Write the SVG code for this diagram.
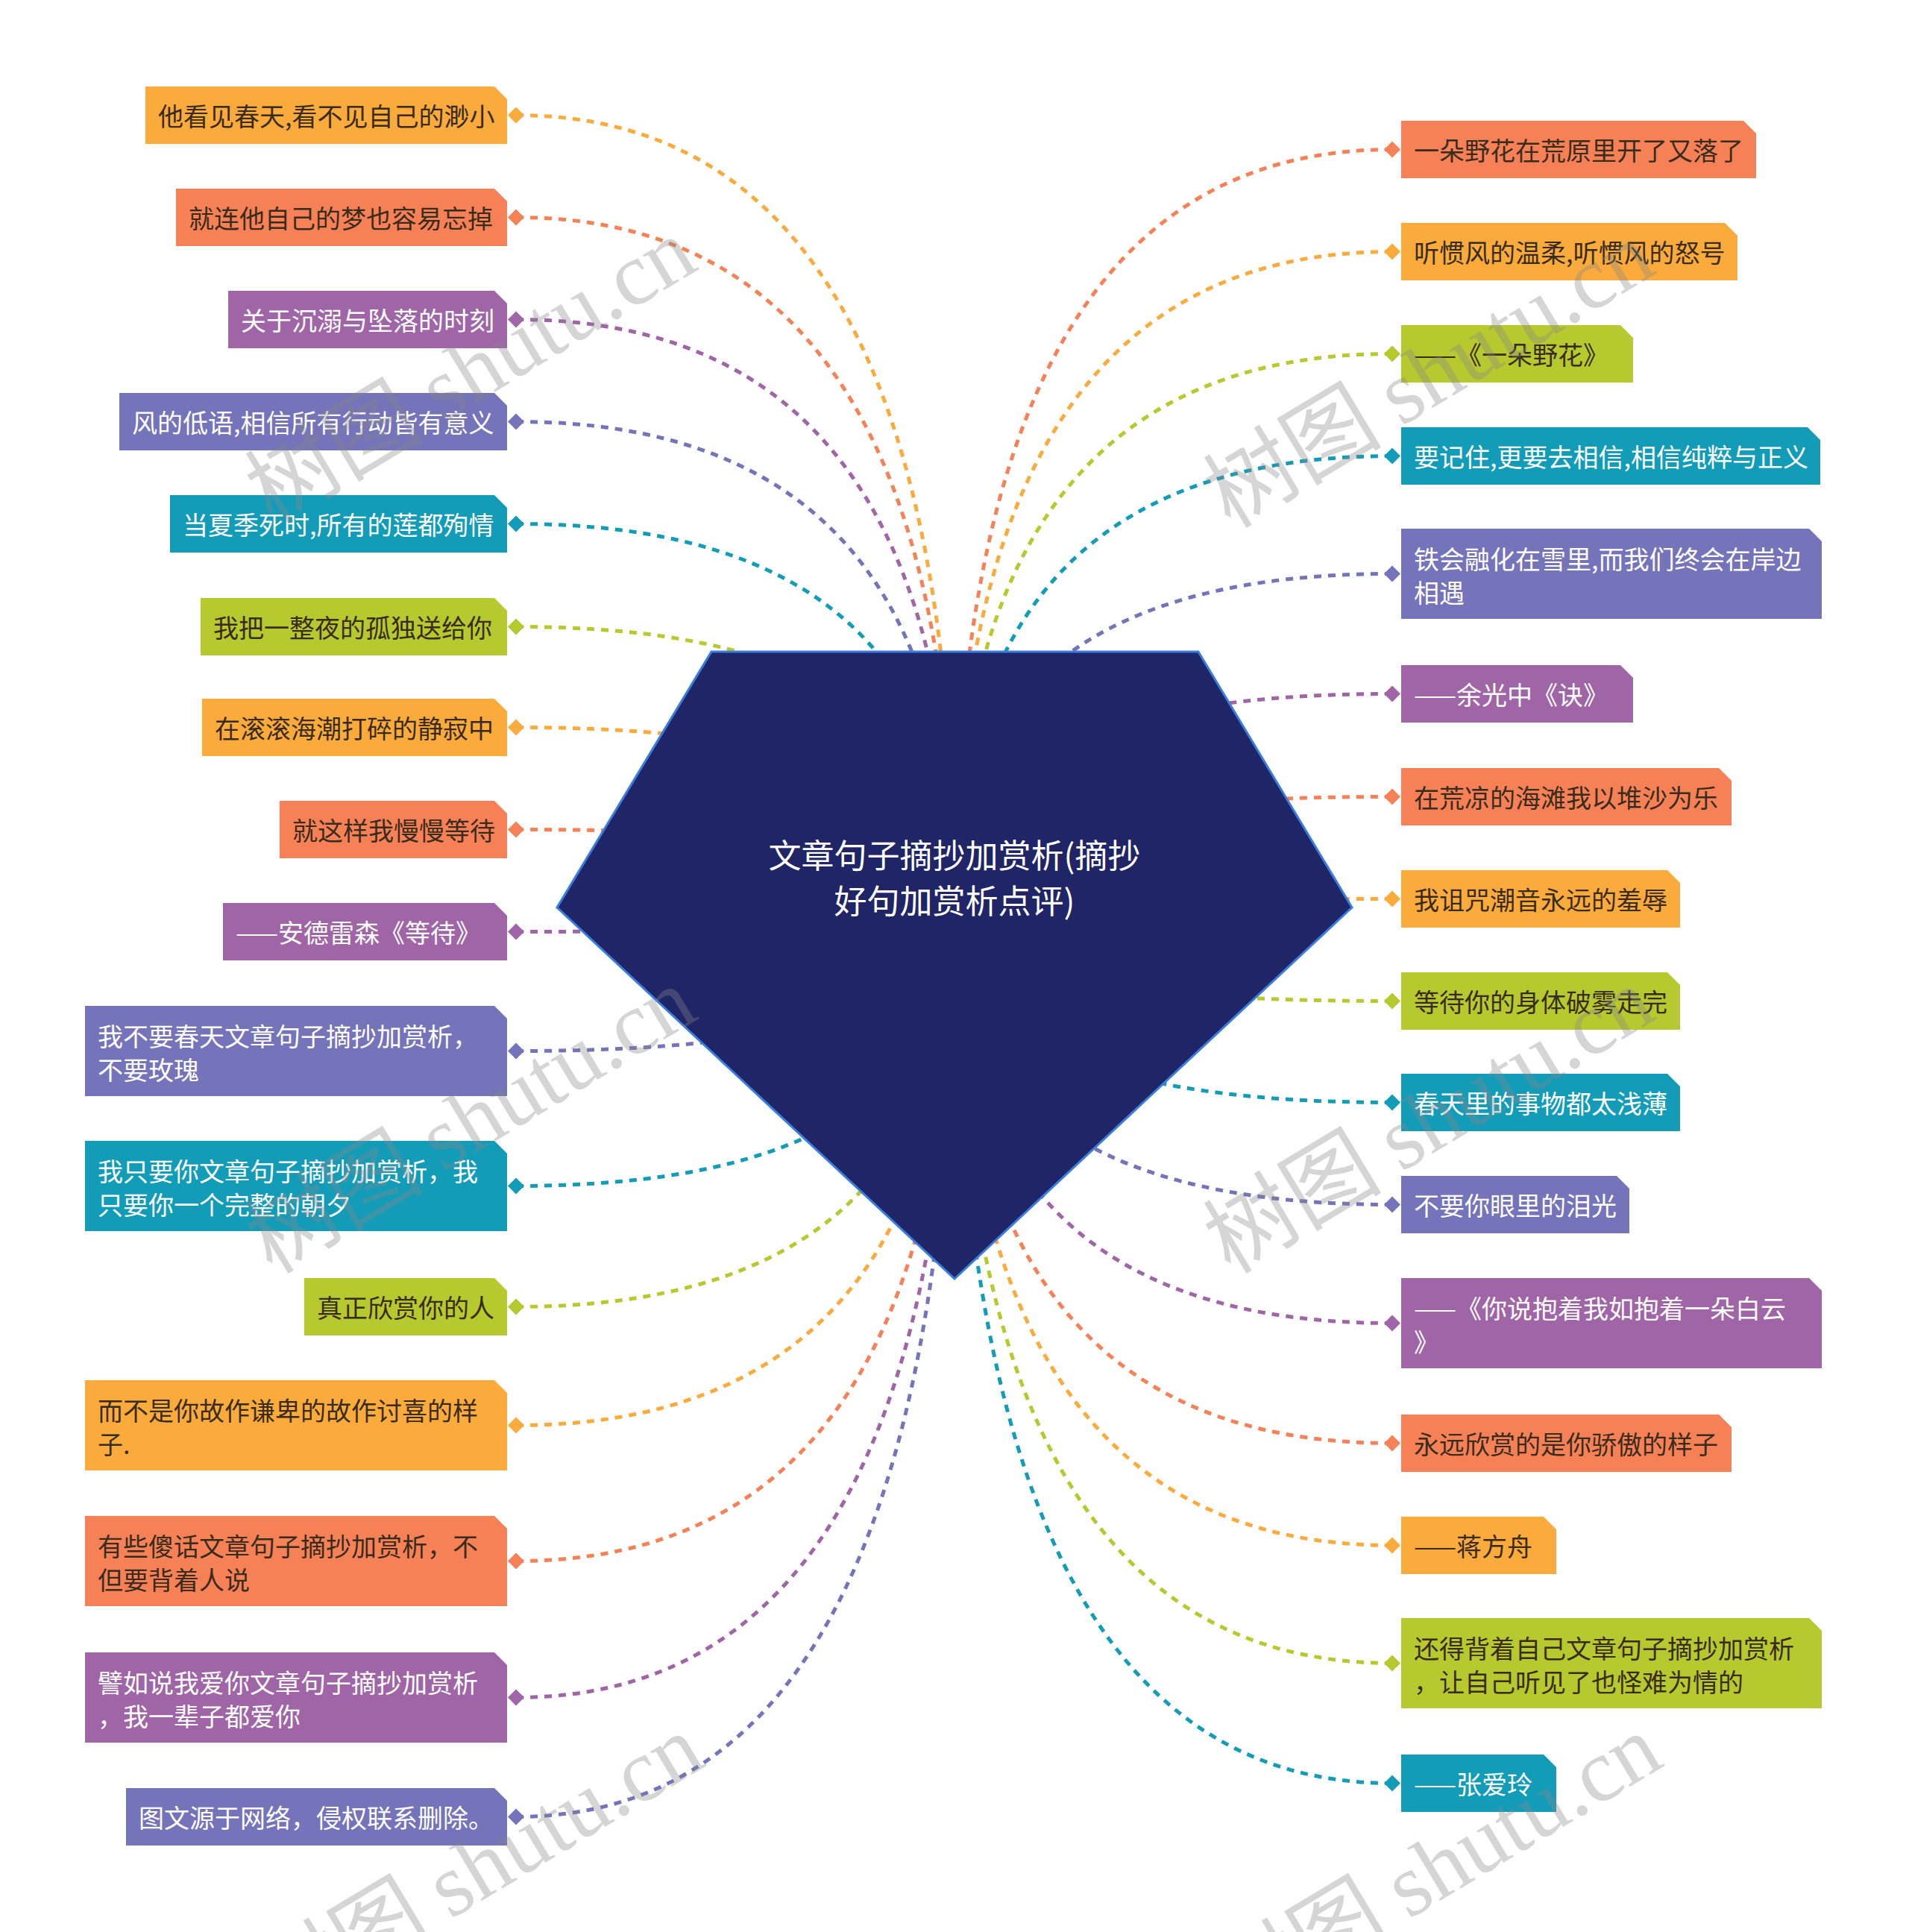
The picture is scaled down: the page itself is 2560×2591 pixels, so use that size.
<svg xmlns="http://www.w3.org/2000/svg" width="2560" height="2591" viewBox="0 0 2560 2591">
<style>
text{font-family:"Noto Sans CJK SC","Noto Sans",sans-serif;font-size:34px;dominant-baseline:central}
.dk{fill:#3a2c1c}.wt{fill:#ffffff}
.c path{fill:none;stroke-width:5;stroke-dasharray:10 9}
.or{fill:#fbab3b}.co{fill:#f78157}.pu{fill:#9f65a7}.vi{fill:#7573b9}.te{fill:#129cb8}.li{fill:#b6c92e}
.sor{stroke:#fbab3b}.sco{stroke:#f78157}.spu{stroke:#9f65a7}.svi{stroke:#7573b9}.ste{stroke:#129cb8}.sli{stroke:#b6c92e}
.wm{fill:#888888;opacity:0.35;font-size:120px;dominant-baseline:auto}
.wm tspan.e{font-family:"Liberation Serif",serif}
</style>
<rect width="2560" height="2591" fill="#ffffff"/>
<g id="connectors" class="c">
<path class="sor" d="M692 154.5 Q1280 154.5 1280 1217"/>
<path class="sco" d="M692 291.5 Q1280 291.5 1280 1217"/>
<path class="spu" d="M692 428.5 Q1280 428.5 1280 1217"/>
<path class="svi" d="M692 565.5 Q1280 565.5 1280 1217"/>
<path class="ste" d="M692 702.5 Q1280 702.5 1280 1217"/>
<path class="sli" d="M692 840.5 Q1280 840.5 1280 1217"/>
<path class="sor" d="M692 975.5 Q1280 975.5 1280 1217"/>
<path class="sco" d="M692 1112.5 Q1280 1112.5 1280 1217"/>
<path class="spu" d="M692 1249.5 Q1280 1249.5 1280 1217"/>
<path class="svi" d="M692 1409.5 Q1280 1409.5 1280 1217"/>
<path class="ste" d="M692 1590.5 Q1280 1590.5 1280 1217"/>
<path class="sli" d="M692 1752.5 Q1280 1752.5 1280 1217"/>
<path class="sor" d="M692 1911.5 Q1280 1911.5 1280 1217"/>
<path class="sco" d="M692 2093.5 Q1280 2093.5 1280 1217"/>
<path class="spu" d="M692 2276.5 Q1280 2276.5 1280 1217"/>
<path class="svi" d="M692 2436.5 Q1280 2436.5 1280 1217"/>
<path class="sco" d="M1867 200.5 Q1280 200.5 1280 1217"/>
<path class="sor" d="M1867 337.5 Q1280 337.5 1280 1217"/>
<path class="sli" d="M1867 474.5 Q1280 474.5 1280 1217"/>
<path class="ste" d="M1867 611.5 Q1280 611.5 1280 1217"/>
<path class="svi" d="M1867 769.5 Q1280 769.5 1280 1217"/>
<path class="spu" d="M1867 930.5 Q1280 930.5 1280 1217"/>
<path class="sco" d="M1867 1068.5 Q1280 1068.5 1280 1217"/>
<path class="sor" d="M1867 1205.5 Q1280 1205.5 1280 1217"/>
<path class="sli" d="M1867 1342.5 Q1280 1342.5 1280 1217"/>
<path class="ste" d="M1867 1478.5 Q1280 1478.5 1280 1217"/>
<path class="svi" d="M1867 1615.5 Q1280 1615.5 1280 1217"/>
<path class="spu" d="M1867 1774.5 Q1280 1774.5 1280 1217"/>
<path class="sco" d="M1867 1935.5 Q1280 1935.5 1280 1217"/>
<path class="sor" d="M1867 2072.5 Q1280 2072.5 1280 1217"/>
<path class="sli" d="M1867 2230.5 Q1280 2230.5 1280 1217"/>
<path class="ste" d="M1867 2391.5 Q1280 2391.5 1280 1217"/>
</g>
<g id="center">
<polygon points="954,874 1607,874 1813,1217 1280,1715 747,1217" fill="#1f2566" stroke="#3b7ddd" stroke-width="3"/>
<text class="wt" x="1280" y="1145" text-anchor="middle" style="font-size:44px">文章句子摘抄加赏析(摘抄</text>
<text class="wt" x="1280" y="1206" text-anchor="middle" style="font-size:44px">好句加赏析点评)</text>
</g>
<g id="L1"><path class="or" d="M195 116H663L680 133V193H195Z"/><polygon class="or" points="692,143.5 703,154.5 692,165.5 681,154.5"/><text class="dk" x="212" y="154.5">他看见春天,看不见自己的渺小</text></g>
<g id="L2"><path class="co" d="M236 253H663L680 270V330H236Z"/><polygon class="co" points="692,280.5 703,291.5 692,302.5 681,291.5"/><text class="dk" x="253" y="291.5">就连他自己的梦也容易忘掉</text></g>
<g id="L3"><path class="pu" d="M306 390H663L680 407V467H306Z"/><polygon class="pu" points="692,417.5 703,428.5 692,439.5 681,428.5"/><text class="wt" x="323" y="428.5">关于沉溺与坠落的时刻</text></g>
<g id="L4"><path class="vi" d="M160 527H663L680 544V604H160Z"/><polygon class="vi" points="692,554.5 703,565.5 692,576.5 681,565.5"/><text class="wt" x="177" y="565.5">风的低语,相信所有行动皆有意义</text></g>
<g id="L5"><path class="te" d="M228 664H663L680 681V741H228Z"/><polygon class="te" points="692,691.5 703,702.5 692,713.5 681,702.5"/><text class="wt" x="245" y="702.5">当夏季死时,所有的莲都殉情</text></g>
<g id="L6"><path class="li" d="M269 802H663L680 819V879H269Z"/><polygon class="li" points="692,829.5 703,840.5 692,851.5 681,840.5"/><text class="dk" x="286" y="840.5">我把一整夜的孤独送给你</text></g>
<g id="L7"><path class="or" d="M271 937H663L680 954V1014H271Z"/><polygon class="or" points="692,964.5 703,975.5 692,986.5 681,975.5"/><text class="dk" x="288" y="975.5">在滚滚海潮打碎的静寂中</text></g>
<g id="L8"><path class="co" d="M375 1074H663L680 1091V1151H375Z"/><polygon class="co" points="692,1101.5 703,1112.5 692,1123.5 681,1112.5"/><text class="dk" x="392" y="1112.5">就这样我慢慢等待</text></g>
<g id="L9"><path class="pu" d="M299 1211H663L680 1228V1288H299Z"/><polygon class="pu" points="692,1238.5 703,1249.5 692,1260.5 681,1249.5"/><text class="wt" x="316" y="1249.5">——安德雷森《等待》</text></g>
<g id="L10"><path class="vi" d="M114 1349H663L680 1366V1470H114Z"/><polygon class="vi" points="692,1398.5 703,1409.5 692,1420.5 681,1409.5"/><text class="wt" x="131" y="1388">我不要春天文章句子摘抄加赏析，</text><text class="wt" x="131" y="1433">不要玫瑰</text></g>
<g id="L11"><path class="te" d="M114 1530H663L680 1547V1651H114Z"/><polygon class="te" points="692,1579.5 703,1590.5 692,1601.5 681,1590.5"/><text class="wt" x="131" y="1569">我只要你文章句子摘抄加赏析，我</text><text class="wt" x="131" y="1614">只要你一个完整的朝夕</text></g>
<g id="L12"><path class="li" d="M408 1714H663L680 1731V1791H408Z"/><polygon class="li" points="692,1741.5 703,1752.5 692,1763.5 681,1752.5"/><text class="dk" x="425" y="1752.5">真正欣赏你的人</text></g>
<g id="L13"><path class="or" d="M114 1851H663L680 1868V1972H114Z"/><polygon class="or" points="692,1900.5 703,1911.5 692,1922.5 681,1911.5"/><text class="dk" x="131" y="1890">而不是你故作谦卑的故作讨喜的样</text><text class="dk" x="131" y="1935">子.</text></g>
<g id="L14"><path class="co" d="M114 2033H663L680 2050V2154H114Z"/><polygon class="co" points="692,2082.5 703,2093.5 692,2104.5 681,2093.5"/><text class="dk" x="131" y="2072">有些傻话文章句子摘抄加赏析，不</text><text class="dk" x="131" y="2117">但要背着人说</text></g>
<g id="L15"><path class="pu" d="M114 2216H663L680 2233V2337H114Z"/><polygon class="pu" points="692,2265.5 703,2276.5 692,2287.5 681,2276.5"/><text class="wt" x="131" y="2255">譬如说我爱你文章句子摘抄加赏析</text><text class="wt" x="131" y="2300">，我一辈子都爱你</text></g>
<g id="L16"><path class="vi" d="M169 2398H663L680 2415V2475H169Z"/><polygon class="vi" points="692,2425.5 703,2436.5 692,2447.5 681,2436.5"/><text class="wt" x="186" y="2436.5">图文源于网络，侵权联系删除。</text></g>
<g id="R1"><path class="co" d="M1879 162H2338L2355 179V239H1879Z"/><polygon class="co" points="1867,189.5 1878,200.5 1867,211.5 1856,200.5"/><text class="dk" x="1896" y="200.5">一朵野花在荒原里开了又落了</text></g>
<g id="R2"><path class="or" d="M1879 299H2313L2330 316V376H1879Z"/><polygon class="or" points="1867,326.5 1878,337.5 1867,348.5 1856,337.5"/><text class="dk" x="1896" y="337.5">听惯风的温柔,听惯风的怒号</text></g>
<g id="R3"><path class="li" d="M1879 436H2173L2190 453V513H1879Z"/><polygon class="li" points="1867,463.5 1878,474.5 1867,485.5 1856,474.5"/><text class="dk" x="1896" y="474.5">——《一朵野花》</text></g>
<g id="R4"><path class="te" d="M1879 573H2424L2441 590V650H1879Z"/><polygon class="te" points="1867,600.5 1878,611.5 1867,622.5 1856,611.5"/><text class="wt" x="1896" y="611.5">要记住,更要去相信,相信纯粹与正义</text></g>
<g id="R5"><path class="vi" d="M1879 709H2426L2443 726V830H1879Z"/><polygon class="vi" points="1867,758.5 1878,769.5 1867,780.5 1856,769.5"/><text class="wt" x="1896" y="748">铁会融化在雪里,而我们终会在岸边</text><text class="wt" x="1896" y="793">相遇</text></g>
<g id="R6"><path class="pu" d="M1879 892H2173L2190 909V969H1879Z"/><polygon class="pu" points="1867,919.5 1878,930.5 1867,941.5 1856,930.5"/><text class="wt" x="1896" y="930.5">——余光中《诀》</text></g>
<g id="R7"><path class="co" d="M1879 1030H2305L2322 1047V1107H1879Z"/><polygon class="co" points="1867,1057.5 1878,1068.5 1867,1079.5 1856,1068.5"/><text class="dk" x="1896" y="1068.5">在荒凉的海滩我以堆沙为乐</text></g>
<g id="R8"><path class="or" d="M1879 1167H2236L2253 1184V1244H1879Z"/><polygon class="or" points="1867,1194.5 1878,1205.5 1867,1216.5 1856,1205.5"/><text class="dk" x="1896" y="1205.5">我诅咒潮音永远的羞辱</text></g>
<g id="R9"><path class="li" d="M1879 1304H2236L2253 1321V1381H1879Z"/><polygon class="li" points="1867,1331.5 1878,1342.5 1867,1353.5 1856,1342.5"/><text class="dk" x="1896" y="1342.5">等待你的身体破雾走完</text></g>
<g id="R10"><path class="te" d="M1879 1440H2236L2253 1457V1517H1879Z"/><polygon class="te" points="1867,1467.5 1878,1478.5 1867,1489.5 1856,1478.5"/><text class="wt" x="1896" y="1478.5">春天里的事物都太浅薄</text></g>
<g id="R11"><path class="vi" d="M1879 1577H2168L2185 1594V1654H1879Z"/><polygon class="vi" points="1867,1604.5 1878,1615.5 1867,1626.5 1856,1615.5"/><text class="wt" x="1896" y="1615.5">不要你眼里的泪光</text></g>
<g id="R12"><path class="pu" d="M1879 1714H2426L2443 1731V1835H1879Z"/><polygon class="pu" points="1867,1763.5 1878,1774.5 1867,1785.5 1856,1774.5"/><text class="wt" x="1896" y="1753">——《你说抱着我如抱着一朵白云</text><text class="wt" x="1896" y="1798">》</text></g>
<g id="R13"><path class="co" d="M1879 1897H2305L2322 1914V1974H1879Z"/><polygon class="co" points="1867,1924.5 1878,1935.5 1867,1946.5 1856,1935.5"/><text class="dk" x="1896" y="1935.5">永远欣赏的是你骄傲的样子</text></g>
<g id="R14"><path class="or" d="M1879 2034H2070L2087 2051V2111H1879Z"/><polygon class="or" points="1867,2061.5 1878,2072.5 1867,2083.5 1856,2072.5"/><text class="dk" x="1896" y="2072.5">——蒋方舟</text></g>
<g id="R15"><path class="li" d="M1879 2170H2426L2443 2187V2291H1879Z"/><polygon class="li" points="1867,2219.5 1878,2230.5 1867,2241.5 1856,2230.5"/><text class="dk" x="1896" y="2209">还得背着自己文章句子摘抄加赏析</text><text class="dk" x="1896" y="2254">，让自己听见了也怪难为情的</text></g>
<g id="R16"><path class="te" d="M1879 2353H2070L2087 2370V2430H1879Z"/><polygon class="te" points="1867,2380.5 1878,2391.5 1867,2402.5 1856,2391.5"/><text class="wt" x="1896" y="2391.5">——张爱玲</text></g>
<g id="watermarks">
<text class="wm" transform="translate(365,705) rotate(-31)">树图 <tspan class="e">shutu.cn</tspan></text>
<text class="wm" transform="translate(1650,710) rotate(-31)">树图 <tspan class="e">shutu.cn</tspan></text>
<text class="wm" transform="translate(365,1710) rotate(-31)">树图 <tspan class="e">shutu.cn</tspan></text>
<text class="wm" transform="translate(1650,1710) rotate(-31)">树图 <tspan class="e">shutu.cn</tspan></text>
<text class="wm" transform="translate(375,2712) rotate(-31)">树图 <tspan class="e">shutu.cn</tspan></text>
<text class="wm" transform="translate(1660,2712) rotate(-31)">树图 <tspan class="e">shutu.cn</tspan></text>
</g>
</svg>
